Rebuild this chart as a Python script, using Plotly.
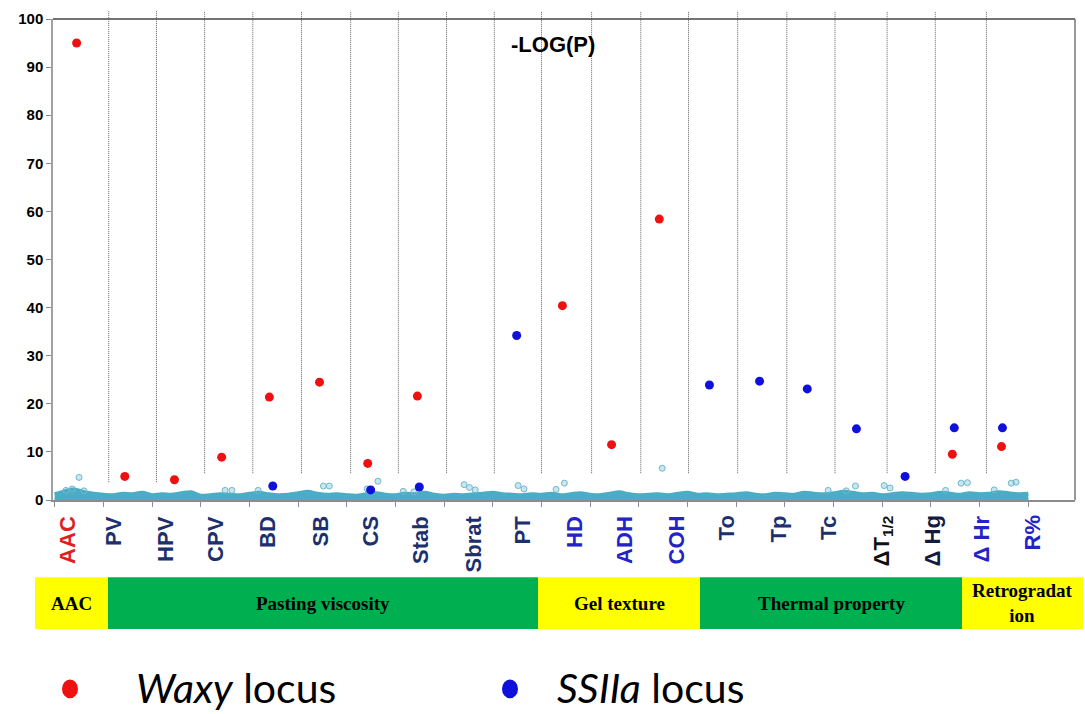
import numpy as np
import plotly.graph_objects as go

# ---------------- data ----------------
traits = ["AAC", "PV", "HPV", "CPV", "BD", "SB", "CS", "Stab", "Sbrat", "PT",
          "HD", "ADH", "COH", "To", "Tp", "Tc", "ΔT<sub>1/2</sub>", "Δ Hg", "Δ Hr", "R%"]

groups = ["AAC", "Pasting viscosity", "Gel texture", "Thermal property", "Retrogradat<br>ion"]

# genome position (in trait-segment units) and -log(p) of the Waxy locus hits
waxy_x = [0.45, 1.44, 2.46, 3.43, 4.41, 5.44, 6.43, 7.45, 10.43, 11.44, 12.42, 18.44, 19.45]
waxy_y = [95.0, 4.9, 4.2, 8.9, 21.4, 24.5, 7.6, 21.6, 40.4, 11.5, 58.4, 9.5, 11.1]

# SSIIa locus hits
ssiia_x = [4.48, 6.49, 7.49, 9.49, 13.45, 14.48, 15.46, 16.47, 17.47, 18.48, 19.47]
ssiia_y = [2.9, 2.1, 2.7, 34.2, 23.9, 24.7, 23.1, 14.8, 4.9, 15.0, 15.0]

# background SNPs: upper envelope of the dense band (read every 0.2 segment)
band_y = [1.2, 1.8, 2.2, 1.6, 1.3, 1.1, 1.0, 1.3, 1.2, 1.5, 1.0, 1.2, 1.1, 1.4, 1.6,
          0.9, 1.0, 1.2, 1.1, 1.0, 1.3, 1.5, 1.2, 1.0, 1.1, 1.4, 1.7, 1.3, 1.1, 1.2,
          1.0, 0.9, 1.2, 1.4, 1.1, 1.0, 1.3, 1.2, 1.5, 1.1, 0.9, 1.1, 1.0, 1.2, 1.3,
          1.5, 1.2, 1.1, 1.0, 1.2, 1.1, 1.3, 1.0, 1.2, 1.4, 1.1, 1.0, 1.3, 1.6, 1.2,
          1.0, 1.1, 1.2, 1.0, 1.3, 1.5, 1.1, 1.2, 1.0, 1.1, 1.2, 1.4, 1.1, 1.0, 1.3,
          1.2, 1.1, 1.5, 1.3, 1.2, 1.4, 1.7, 1.5, 1.2, 1.3, 1.0, 1.2, 1.4, 1.3, 1.1,
          1.2, 1.5, 1.3, 1.1, 1.4, 1.2, 1.3, 1.6, 1.4, 1.2, 1.3]
band_x = np.linspace(0, 20, len(band_y))

# background SNPs standing out of the band
snp_x = [0.23, 0.36, 0.50, 0.60, 3.50, 3.64, 4.18, 5.52, 5.64, 6.42, 6.64, 7.16, 7.38,
         8.41, 8.52, 8.64, 9.52, 9.64, 10.30, 10.47, 12.48, 15.89, 16.26, 16.45, 17.04,
         17.16, 18.30, 18.62, 18.75, 19.30, 19.65, 19.75]
snp_y = [2.0, 2.3, 4.7, 1.9, 2.0, 2.0, 2.0, 2.9, 2.9, 2.3, 3.9, 1.8, 1.7,
         3.2, 2.6, 2.1, 3.0, 2.3, 2.2, 3.5, 6.6, 2.0, 1.9, 2.9, 3.0,
         2.5, 2.0, 3.5, 3.6, 2.1, 3.5, 3.7]

y_ticks = list(range(0, 101, 10))
seg_ticks = list(range(0, 21))

# ---------------- layout helpers (pixel -> paper) ----------------
W, H = 1085, 714
L, R, T, B = 53, 10, 15, 214
PW, PH = W - L - R, H - T - B


def px(p):
    return (p - L) / PW


def py(p):
    return (T + PH - p) / PH


divider_pos = [1.11, 2.09, 3.08, 4.07, 5.07, 6.08, 7.06, 8.05, 9.03, 10.0, 11.03,
               12.04, 13.02, 14.03, 15.04, 16.03, 17.1, 18.09, 19.14]
label_px = [68, 114, 166, 216, 268, 320, 370, 421, 473, 522, 575, 625, 676, 726,
            778, 829, 883, 932, 981, 1032]
NAVY, BLUE, RED, BLACK = "#1c2f6e", "#2323c8", "#e02020", "#111111"
label_col = [RED, NAVY, NAVY, NAVY, NAVY, NAVY, NAVY, NAVY, NAVY, NAVY,
             BLUE, BLUE, BLUE, NAVY, NAVY, NAVY, BLACK, "#141a40", BLUE, BLUE]
group_px = [(35, 108), (108, 538), (538, 700), (700, 962), (962, 1083)]
group_fill = ["#ffff00", "#00b050", "#ffff00", "#00b050", "#ffff00"]

TEAL = "#4bacc6"

fig = go.Figure()
fig.add_trace(go.Scatter(x=band_x, y=band_y, mode="lines", fill="tozeroy",
                         fillcolor=TEAL, line=dict(color=TEAL, width=4, shape="spline"),
                         hoverinfo="skip", showlegend=False))
fig.add_trace(go.Scatter(x=[0, 20], y=[0, 0], mode="lines",
                         line=dict(color=TEAL, width=5),
                         hoverinfo="skip", showlegend=False))
fig.add_trace(go.Scatter(x=snp_x, y=snp_y, mode="markers", cliponaxis=False,
                         marker=dict(size=6, color="rgba(75,172,198,0.3)",
                                     line=dict(color="#6fb8cc", width=1)),
                         showlegend=False))
fig.add_trace(go.Scatter(x=waxy_x, y=waxy_y, mode="markers", cliponaxis=False,
                         marker=dict(size=9, color="#ee1111"), name="Waxy locus",
                         showlegend=False))
fig.add_trace(go.Scatter(x=ssiia_x, y=ssiia_y, mode="markers", cliponaxis=False,
                         marker=dict(size=9, color="#1010dd"), name="SSIIa locus",
                         showlegend=False))

shapes = []
for i, d in enumerate(divider_pos):
    shapes.append(dict(type="line", xref="x", yref="paper", x0=d, x1=d,
                       y0=py(482 if i < 2 else 473), y1=py(7),
                       line=dict(color="#606060", width=1, dash="1px,1px")))
# frame top and right
shapes.append(dict(type="line", xref="paper", yref="paper", x0=0, x1=1, y0=1, y1=1,
                   line=dict(color="#444444", width=1.5)))
shapes.append(dict(type="line", xref="paper", yref="paper", x0=1, x1=1, y0=0, y1=1,
                   line=dict(color="#777777", width=1.5)))
# group band
for (a, b), c in zip(group_px, group_fill):
    shapes.append(dict(type="rect", xref="paper", yref="paper", x0=px(a), x1=px(b),
                       y0=py(630), y1=py(578), fillcolor=c, line=dict(width=0),
                       layer="below"))
# legend dots
shapes.append(dict(type="circle", xref="paper", yref="paper", x0=px(62), x1=px(78),
                   y0=py(700), y1=py(681), fillcolor="#ee1111", line=dict(width=0)))
shapes.append(dict(type="circle", xref="paper", yref="paper", x0=px(502), x1=px(518),
                   y0=py(700), y1=py(681), fillcolor="#1010dd", line=dict(width=0)))

ann = []
ann.append(dict(text="-LOG(P)", xref="paper", yref="paper", x=px(553), y=py(41),
                xanchor="center", yanchor="middle", showarrow=False,
                font=dict(family="Arial", size=22, color="black", weight="bold")))
for t, p, c in zip(traits, label_px, label_col):
    ann.append(dict(text=t, xref="paper", yref="paper", x=px(p), y=py(514),
                    xanchor="center", yanchor="top", textangle=-90, showarrow=False,
                    font=dict(family="Arial", size=22, color=c, weight="bold")))
for g, (a, b) in zip(groups, group_px):
    ann.append(dict(text=g, xref="paper", yref="paper", x=px((a + b) / 2), y=py(604),
                    xanchor="center", yanchor="middle", showarrow=False,
                    font=dict(family="Liberation Serif", size=19,
                              color="black", weight="bold")))
ann.append(dict(text="<i>Waxy</i> locus", xref="paper", yref="paper", x=px(134),
                y=py(689), xanchor="left", yanchor="middle", showarrow=False,
                font=dict(family="Lato", size=41, color="black")))
ann.append(dict(text="<i>SSIIa</i> locus", xref="paper", yref="paper", x=px(555),
                y=py(689), xanchor="left", yanchor="middle", showarrow=False,
                font=dict(family="Lato", size=41, color="black")))

fig.update_layout(
    width=W, height=H, margin=dict(l=L, r=R, t=T, b=B, pad=0),
    paper_bgcolor="white", plot_bgcolor="white", showlegend=False,
    shapes=shapes, annotations=ann,
    xaxis=dict(range=[-0.035, 20.96], tickvals=seg_ticks, showticklabels=False,
               ticks="outside", ticklen=5, tickcolor="#8c8c8c", showline=True,
               linecolor="#8c8c8c", linewidth=1.5, showgrid=False, zeroline=False),
    yaxis=dict(range=[0, 100], tickvals=y_ticks, ticks="outside", ticklen=5,
               tickcolor="#8c8c8c", showline=True, linecolor="#a0a0a0", linewidth=1.5,
               showgrid=False, zeroline=False,
               tickfont=dict(family="Arial", size=15, color="black", weight="bold")),
)

fig.write_html("out.html")
